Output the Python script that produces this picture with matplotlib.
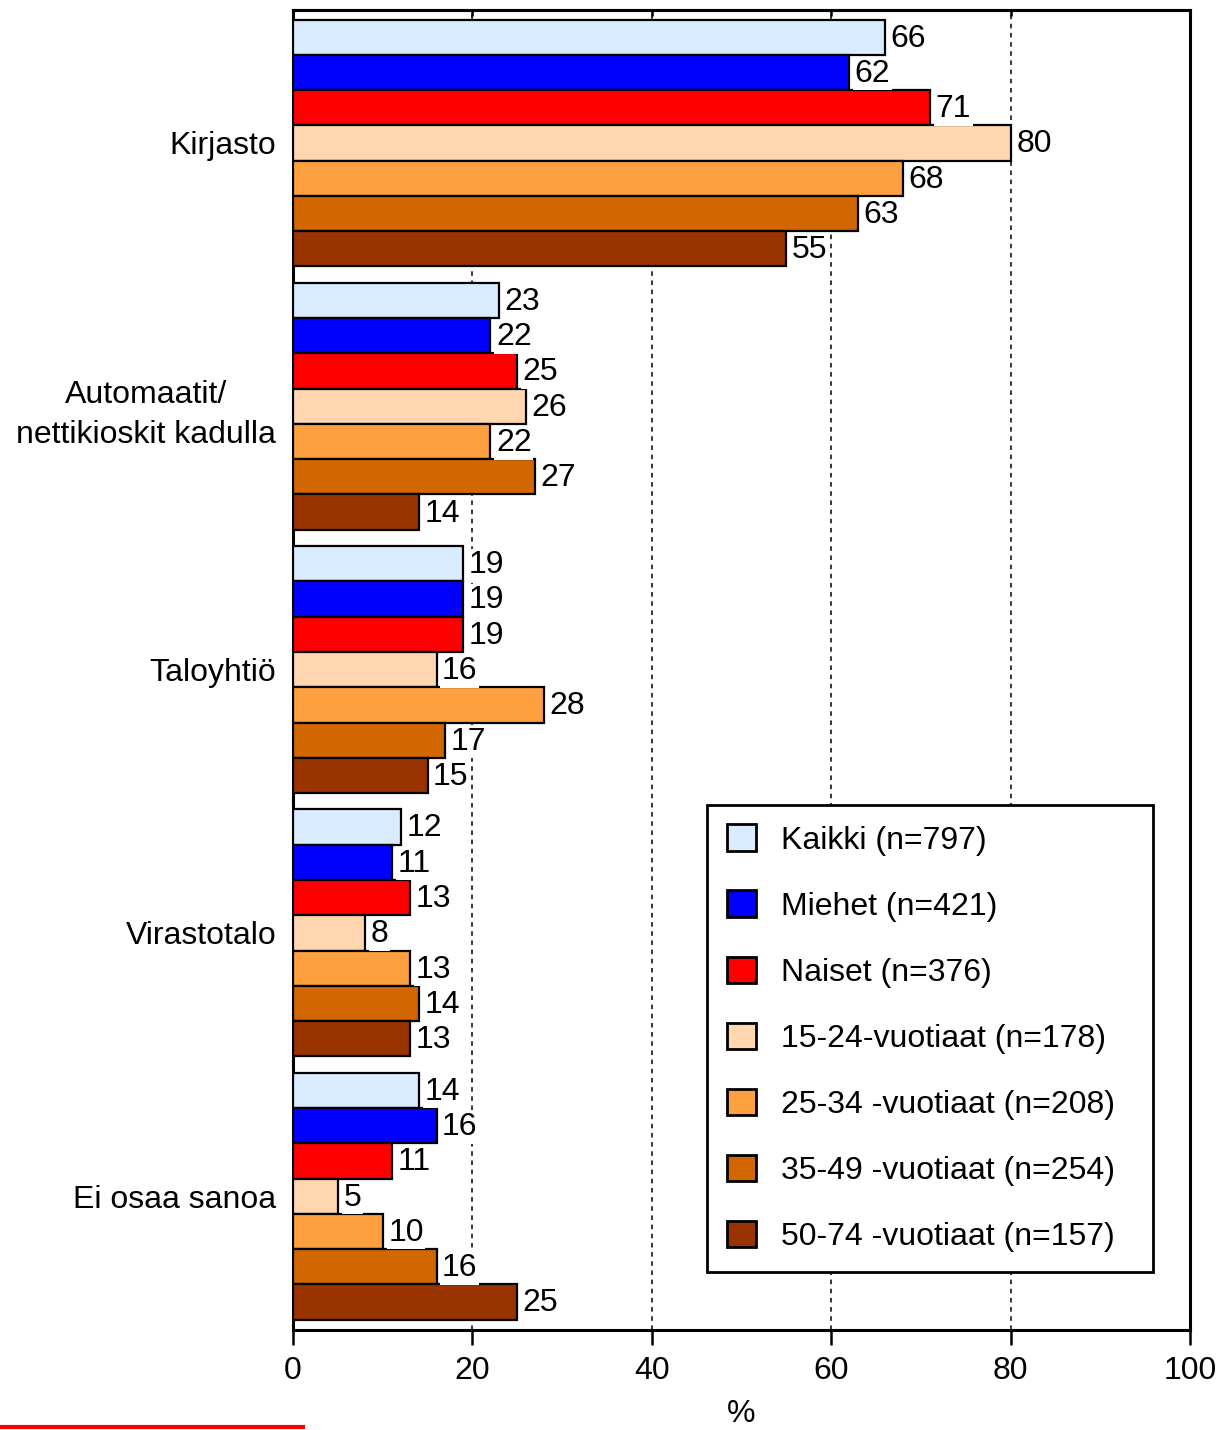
import matplotlib
matplotlib.use('Agg')
import matplotlib.pyplot as plt
from matplotlib.lines import Line2D
import numpy as np

plt.rcParams['font.family'] = ['Liberation Sans', 'DejaVu Sans']

# Data
categories = ['Kirjasto', 'Automaatit/\nnettikioskit kadulla', 'Taloyhtiö',
              'Virastotalo', 'Ei osaa sanoa']
series_names = ['Kaikki (n=797)', 'Miehet (n=421)', 'Naiset (n=376)',
                '15-24-vuotiaat (n=178)', '25-34 -vuotiaat (n=208)',
                '35-49 -vuotiaat (n=254)', '50-74 -vuotiaat (n=157)']
kaikki = [66, 23, 19, 12, 14]
miehet = [62, 22, 19, 11, 16]
naiset = [71, 25, 19, 13, 11]
age_15_24 = [80, 26, 16, 8, 5]
age_25_34 = [68, 22, 28, 13, 10]
age_35_49 = [63, 27, 17, 14, 16]
age_50_74 = [55, 14, 15, 13, 25]
series_values = [kaikki, miehet, naiset, age_15_24, age_25_34, age_35_49, age_50_74]
colors = ['#D9ECFF', '#0000FF', '#FF0000', '#FFD6B0', '#FFA040', '#D26600', '#993300']
x_ticks = [0, 20, 40, 60, 80, 100]

FS = 23

fig = plt.figure(figsize=(12.24, 14.30), dpi=100)
ax = fig.add_axes([293 / 1224, 1 - 1330 / 1430, 897 / 1224, 1320 / 1430])

h = 35.3 / 263.5
y_base = np.arange(len(categories))
for i, (vals, col, name) in enumerate(zip(series_values, colors, series_names)):
    ys = y_base + (i - 3) * h
    # trailing spaces give the legend box its right-hand padding
    ax.barh(ys, vals, height=h, color=col, edgecolor='black', linewidth=1.6,
            label=name + '  ', zorder=3)
    for y, v in zip(ys, vals):
        ax.annotate(str(v), (v, y), xytext=(4, -1), textcoords='offset points',
                    ha='left', va='center', fontsize=FS, zorder=5,
                    bbox=dict(boxstyle='square,pad=0.05', fc='white', ec='none'))

# dotted gridlines
for gx in [20, 40, 60, 80]:
    ax.axvline(gx, color='black', linestyle=(0, (3, 3)), linewidth=1.1, zorder=1)

ax.set_xlim(0, 100)
ax.set_ylim(len(categories) - 1 + 0.508, -0.505)
ax.set_xticks(x_ticks)
ax.set_xticklabels([str(t) for t in x_ticks], fontsize=FS)
ax.tick_params(axis='x', direction='out', length=11, width=1.8, pad=8)
ax.set_yticks(y_base)
ax.set_yticklabels(categories, fontsize=FS, linespacing=1.45, ma='center')
ax.tick_params(axis='y', length=0, pad=12)
ax.set_xlabel('%', fontsize=FS, labelpad=9)

# short inward ticks along the top
top = ax.secondary_xaxis('top')
top.set_xticks(x_ticks)
top.tick_params(direction='in', length=4, width=1.8, labeltop=False)
top.spines['top'].set_linewidth(2.2)

for sp in ax.spines.values():
    sp.set_linewidth(2.2)

leg = ax.legend(loc='lower right', bbox_to_anchor=(0.9588, 0.0439),
                borderaxespad=0, fontsize=FS, frameon=True, fancybox=False,
                edgecolor='black', framealpha=1, labelspacing=1.09,
                handlelength=0.9, handleheight=0.9, handletextpad=0.8,
                borderpad=0.62)
leg.get_frame().set_linewidth(2.0)
for p in leg.get_patches():
    p.set_linewidth(2.0)

# red rule at lower left
fig.add_artist(Line2D([0, 303 / 1224], [0.002, 0.002], color='red',
                      linewidth=3, transform=fig.transFigure))

fig.savefig('out.png', dpi=100)
